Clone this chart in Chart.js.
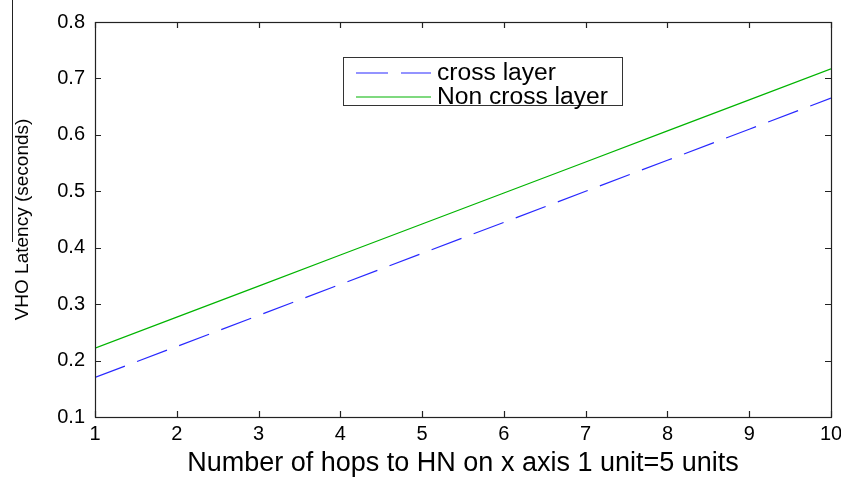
<!DOCTYPE html>
<html>
<head>
<meta charset="utf-8">
<script src="https://cdn.jsdelivr.net/npm/chart.js@4.4.1/dist/chart.umd.min.js"></script>
<style>
body{margin:0;background:#fff;}
#wrap{width:841px;height:477px;}
</style>
</head>
<body>
<div id="wrap"><canvas id="grafico"></canvas></div>
<script>
// hops to HN (1 unit = 5 units)
const hops = [1, 2, 3, 4, 5, 6, 7, 8, 9, 10];
const crossLayer = [0.170, 0.225, 0.280, 0.335, 0.390, 0.445, 0.500, 0.555, 0.610, 0.665];
const nonCrossLayer = [0.222, 0.277, 0.332, 0.387, 0.442, 0.497, 0.552, 0.607, 0.662, 0.717];
const seriesNames = ["cross layer", "Non cross layer"];

const fonte = "'Liberation Sans', Arial, sans-serif";

// moldura estilo matlab + legenda com caixa
const moldura = {
    id: "moldura",
    afterDraw(chart){
        const {ctx, chartArea:a, scales:{x, y}} = chart;
        ctx.save();
        ctx.strokeStyle = "#222";
        ctx.lineWidth = 1.2;
        ctx.strokeRect(a.left + 0.5, a.top + 0.5, a.right - a.left, a.bottom - a.top);

        ctx.beginPath();
        x.ticks.forEach(t=>{
            const px = Math.round(x.getPixelForValue(t.value)) + 0.5;
            ctx.moveTo(px, a.bottom); ctx.lineTo(px, a.bottom - 6);
            ctx.moveTo(px, a.top); ctx.lineTo(px, a.top + 6);
        });
        y.ticks.forEach(t=>{
            const py = Math.round(y.getPixelForValue(t.value)) + 0.5;
            ctx.moveTo(a.left, py); ctx.lineTo(a.left + 6, py);
            ctx.moveTo(a.right, py); ctx.lineTo(a.right - 6, py);
        });
        ctx.stroke();

        // traço vertical ao lado do titulo do eixo y (como no original)
        ctx.beginPath();
        ctx.lineWidth = 1;
        ctx.moveTo(12.5, 0); ctx.lineTo(12.5, 242);
        ctx.stroke();

        // legenda
        const bx = 343, by = 57, bw = 279, bh = 48;
        ctx.fillStyle = "#fff";
        ctx.fillRect(bx, by, bw, bh);
        ctx.strokeStyle = "#333";
        ctx.lineWidth = 1;
        ctx.strokeRect(bx + 0.5, by + 0.5, bw, bh);

        ctx.font = "23px " + fonte;
        ctx.textBaseline = "middle";
        chart.data.datasets.forEach((ds, i)=>{
            const ly = by + 16 + i * 24;
            ctx.strokeStyle = ds.borderColor;
            ctx.lineWidth = 1.2;
            ctx.setLineDash(ds.borderDash || []);
            ctx.beginPath();
            ctx.moveTo(356, ly); ctx.lineTo(431, ly);
            ctx.stroke();
            ctx.setLineDash([]);
            ctx.fillStyle = "#000";
            ctx.save();
            ctx.translate(437, ly + 1);
            ctx.scale(1.07, 1);
            ctx.fillText(ds.label, 0, 0);
            ctx.restore();
        });
        ctx.restore();
    }
};

new Chart(document.getElementById("grafico"), {
    type: "line",
    data: {
        datasets: [
            {
                label: seriesNames[0],
                data: hops.map((h, i)=>({x: h, y: crossLayer[i]})),
                borderColor: "rgb(40,40,255)",
                borderWidth: 1.2,
                borderDash: [32, 13],
                pointRadius: 0,
                fill: false
            },
            {
                label: seriesNames[1],
                data: hops.map((h, i)=>({x: h, y: nonCrossLayer[i]})),
                borderColor: "rgb(0,180,0)",
                borderWidth: 1.2,
                pointRadius: 0,
                fill: false
            }
        ]
    },
    options: {
        responsive: true,
        maintainAspectRatio: false,
        animation: false,
        layout: {padding: {left: 0, top: 16, right: 0, bottom: 0}},
        plugins: {legend: {display: false}, tooltip: {enabled: false}},
        scales: {
            x: {
                type: "linear",
                min: 1, max: 10,
                afterFit: s=>{ s.height = 60; s.paddingRight = 10; s.paddingLeft = 0; },
                grid: {display: false, drawTicks: false},
                border: {display: false},
                ticks: {stepSize: 1, padding: 5, color: "#000", font: {family: fonte, size: 20}},
                title: {
                    display: true,
                    text: "Number of hops to HN on x axis 1 unit=5 units",
                    color: "#000",
                    font: {family: fonte, size: 27, lineHeight: 1},
                    padding: {top: 0, bottom: 0}
                }
            },
            y: {
                min: 0.1, max: 0.8,
                afterFit: s=>{ s.width = 95; },
                grid: {display: false, drawTicks: false},
                border: {display: false},
                ticks: {stepSize: 0.1, padding: 10, color: "#000",
                    font: {family: fonte, size: 20},
                    callback: v=>v.toFixed(1)},
                title: {
                    display: true,
                    text: "VHO Latency (seconds)",
                    color: "#000",
                    font: {family: fonte, size: 19, lineHeight: 1},
                    padding: {top: 13, bottom: 0}
                }
            }
        }
    },
    plugins: [moldura]
});
</script>
</body>
</html>
